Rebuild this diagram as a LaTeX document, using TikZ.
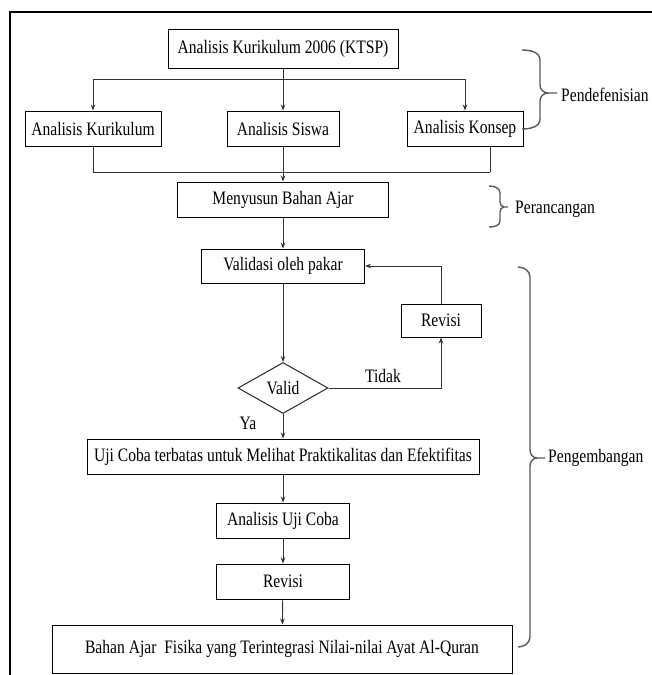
\documentclass[tikz,border=0pt]{standalone}
\usepackage{fontspec}
\setmainfont{Liberation Serif}[FakeStretch=0.82]
\usetikzlibrary{shapes.geometric,arrows.meta}
\begin{document}
\begin{tikzpicture}[x=1pt,y=-1pt,
  txt/.style={font=\fontsize{19}{22}\selectfont},
  box/.style={draw=black,line width=1pt,inner sep=0pt,txt},
  dec/.style={draw=black!85,line width=1pt,diamond,inner sep=0pt,txt},
  conn/.style={draw=black!80,line width=0.9pt},
  arr/.style={conn,-{Stealth[length=6pt,width=4.5pt]}},
  brc/.style={draw=black!65,line width=1.4pt},
  lbl/.style={txt,inner sep=0pt}]
\useasboundingbox (0,0) rectangle (652,675);
\draw[line width=2pt] (10,680) -- (10,12.3) -- (656,12.3);

% nodes
\node[box,minimum width=230pt,minimum height=39pt] (top) at (283,48.5) {Analisis Kurikulum 2006 (KTSP)};
\node[box,minimum width=136pt,minimum height=35pt] (ak) at (93,128.5) {Analisis Kurikulum};
\node[box,minimum width=112pt,minimum height=35pt] (as) at (283,128.5) {Analisis Siswa};
\node[box,minimum width=116pt,minimum height=35pt] (ako) at (465,128.5) {Analisis Konsep};
\node[box,minimum width=211pt,minimum height=35pt] (mb) at (283,199.5) {Menyusun Bahan Ajar};
\node[box,minimum width=163pt,minimum height=34pt] (val) at (283,266) {Validasi oleh pakar};
\node[dec,minimum width=90pt,minimum height=51pt] (dv) at (283,388) {Valid};
\node[box,minimum width=80pt,minimum height=33pt] (rv) at (441,320.5) {Revisi};
\node[box,minimum width=392pt,minimum height=35pt] (uji) at (283,456.5) {Uji Coba terbatas untuk Melihat Praktikalitas dan Efektifitas};
\node[box,minimum width=133pt,minimum height=35pt] (auc) at (283,520.5) {Analisis Uji Coba};
\node[box,minimum width=133pt,minimum height=35pt] (rv2) at (283,581.5) {Revisi};
\node[box,minimum width=460pt,minimum height=48pt] (bahan) at (282,649) {Bahan Ajar~ Fisika yang Terintegrasi Nilai-nilai Ayat Al-Quran};

\node[lbl] (tidak) at (383,376) {Tidak};
\node[lbl] (ya) at (248,423) {Ya};

% connectors
\coordinate (j1) at (283,79);
\coordinate (j2) at (283,172);
\coordinate (k3) at (490,172);
\draw[arr] (top.south) -- (as.north);
\draw[arr] (j1) -| (ak.north);
\draw[arr] (j1) -| (ako.north);
\draw[conn] (ak.south) |- (k3);
\draw[conn] (ako.south -| k3) -- (k3);
\draw[conn] (as.south) -- (j2);
\draw[arr] (j2) -- (mb.north);
\draw[arr] (mb) -- (val);
\draw[arr] (val) -- (dv);
\draw[arr] (dv.east) -| (rv.south);
\draw[arr] (rv.north) |- (val.east);
\draw[arr] (dv.south) -- (uji.north);
\draw[arr] (uji) -- (auc);
\draw[arr] (auc) -- (rv2);
\draw[arr] (rv2) -- (bahan);

% braces
\draw[brc] (522,50) to[out=0,in=90] (540,60) -- (540,85) to[out=-90,in=180] (548,93) -- (557,93);
\draw[brc] (548,93) to[out=180,in=90] (540,101) -- (540,119) to[out=-90,in=0] (522,129);
\node[lbl,anchor=west] (pend) at (561,95) {Pendefenisian};

\draw[brc] (489,186) to[out=0,in=90] (500,193) -- (500,202) to[out=-90,in=180] (504,207) -- (508,207);
\draw[brc] (504,207) to[out=180,in=90] (500,212) -- (500,221) to[out=-90,in=0] (489,227);
\node[lbl,anchor=west] (peran) at (515,209) {Perancangan};

\draw[brc] (518,267) to[out=0,in=90] (530,277) -- (530,450) to[out=-90,in=180] (537,458) -- (545,458);
\draw[brc] (537,458) to[out=180,in=90] (530,466) -- (530,637) to[out=-90,in=0] (518,647);
\node[lbl,anchor=west] (peng) at (548,458) {Pengembangan};
\end{tikzpicture}
\end{document}
